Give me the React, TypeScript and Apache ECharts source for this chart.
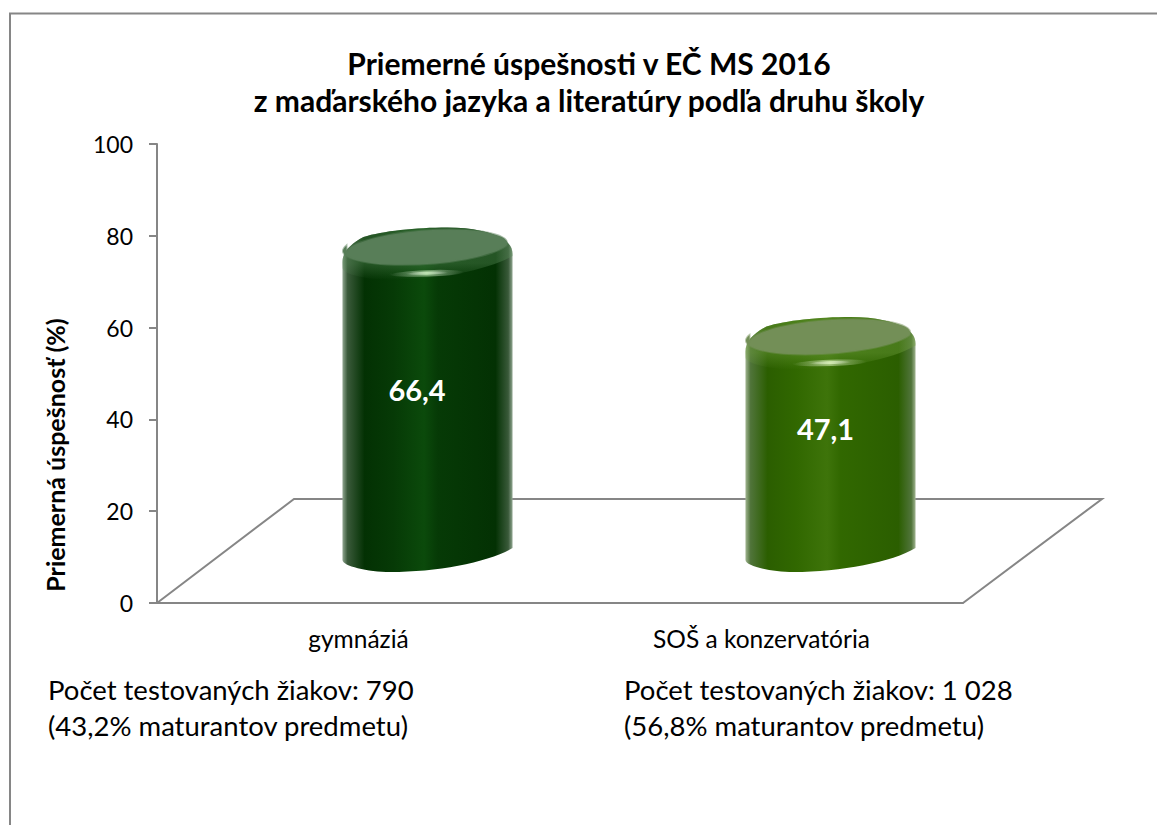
import React, { useEffect, useRef } from "react";
import * as echarts from "echarts";

const categories = ["gymnáziá", "SOŠ a konzervatória"];
const scores = [66.4, 47.1];
const yTicks = { min: 0, max: 100, interval: 20 };
const titleLines = [
  "Priemerné úspešnosti v EČ MS 2016",
  "z maďarského jazyka a literatúry podľa druhu školy",
];
const yAxisTitle = "Priemerná úspešnosť (%)";
const noteLeft = ["Počet testovaných žiakov: 790", "(43,2% maturantov predmetu)"];
const noteRight = ["Počet testovaných žiakov: 1 028", "(56,8% maturantov predmetu)"];

const FONT = "Lato";
const GREY = "#868686";
const labelLift = [10, 16];
const labelShift = [-10.5, -5];
const palettes = [
  { rim: "#8fa58f", edge: "#3a5a3a", dark: "#033103", mid: "#063a06", bright: "#0b4a0b", band: "rgba(84,135,84,A)", face: "#587e58", faceSoft: "rgba(88,126,88,0.5)", glow: "#c8ecbc" },
  { rim: "#a0b490", edge: "#50743a", dark: "#2b5e00", mid: "#316800", bright: "#3e740a", band: "rgba(112,160,62,A)", face: "#738f57", faceSoft: "rgba(115,143,87,0.5)", glow: "#dcf2bc" },
];

function ellipseD(cx: number, cy: number, rx: number, ry: number, deg: number) {
  const a = (deg * Math.PI) / 180;
  const dx = rx * Math.cos(a);
  const dy = rx * Math.sin(a);
  return `M${cx - dx} ${cy + dy}A${rx} ${ry} ${-deg} 1 1 ${cx + dx} ${cy - dy}A${rx} ${ry} ${-deg} 1 1 ${cx - dx} ${cy + dy}Z`;
}

function hGrad(stops: [number, string][]) {
  return new echarts.graphic.LinearGradient(0, 0, 1, 0, stops.map(([offset, color]) => ({ offset, color })));
}

function renderCylinder(params: any, api: any) {
  const i = api.value(0);
  const v = api.value(1);
  const p = palettes[i];
  const top = api.coord([i, v]);
  const base = api.coord([i, 0]);
  const band = api.size([1, 0])[0];
  const sx = (band * 0.211) / 85;
  const cx = top[0];
  const X = (u: number) => cx + u * sx;
  // Rounded shoulders of the cylinder, then its curved lower edge at the level lowerY.
  const slab = (lowerY: number) => {
    const T = (w: number) => top[1] + w;
    const L = (w: number) => lowerY + w;
    return (
      `M${X(-85)} ${T(16)}` +
      `C${X(-85)} ${T(6)} ${X(-77)} ${T(-2)} ${X(-64)} ${T(-9)}` +
      `C${X(-45)} ${T(-15)} ${X(-12)} ${T(-18.5)} ${X(20)} ${T(-18.5)}` +
      `C${X(45)} ${T(-18.5)} ${X(64)} ${T(-14)} ${X(75)} ${T(-7)}` +
      `C${X(82)} ${T(-3)} ${X(85)} ${T(2)} ${X(85)} ${T(8)}` +
      `L${X(85)} ${L(-6)}` +
      `C${X(62)} ${L(8)} ${X(10)} ${L(18)} ${X(-37)} ${L(18)}` +
      `C${X(-60)} ${L(18)} ${X(-85)} ${L(12)} ${X(-85)} ${L(6)}Z`
    );
  };
  const hy = top[1] + 27;
  const shaded = (pathData: string, style: any) => ({ type: "path", shape: { pathData }, style });
  const glowFill = () => hGrad([[0, "rgba(255,255,255,0)"], [0.5, p.glow], [1, "rgba(255,255,255,0)"]]);
  return {
    type: "group",
    children: [
      shaded(slab(base[1]), {
        fill: hGrad([
          [0, p.rim], [0.03, p.edge], [0.13, p.dark], [0.3, p.mid], [0.48, p.bright], [0.56, p.mid],
          [0.9, p.dark], [0.975, p.edge], [1, p.rim],
        ]),
      }),
      shaded(slab(top[1] + 16), {
        fill: new echarts.graphic.LinearGradient(0, 0, 0, 1, [
          { offset: 0, color: p.band.replace("A", "0.42") },
          { offset: 0.68, color: p.band.replace("A", "0.42") },
          { offset: 1, color: p.band.replace("A", "0") },
        ]),
      }),
      shaded(ellipseD(cx - 1, top[1] - 0.5, 80 * sx, 17.8, 4.3), { fill: p.face, stroke: p.faceSoft, lineWidth: 2 }),
      shaded(ellipseD(cx, hy, 36, 3.4, 2), { fill: glowFill(), opacity: 0.55 }),
      shaded(ellipseD(cx, hy, 20, 1.6, 2), { fill: glowFill(), opacity: 0.85 }),
      {
        type: "text",
        style: {
          text: v.toFixed(1).replace(".", ","),
          x: cx + labelShift[i],
          y: (top[1] + base[1]) / 2 - labelLift[i],
          align: "center",
          verticalAlign: "middle",
          fill: "#fff",
          fontFamily: FONT,
          fontWeight: "bold",
          fontSize: 29,
        },
      },
    ],
  };
}

function noteText(lines: string[], x: number) {
  return {
    type: "text",
    x,
    y: 671,
    style: { text: lines.join("\n"), fill: "#000", fontFamily: FONT, fontSize: 27.5, lineHeight: 36, align: "left", verticalAlign: "top" },
  };
}

export default function App() {
  const ref = useRef<HTMLDivElement>(null);
  useEffect(() => {
    document.body.style.margin = "0";
    const chart = echarts.init(ref.current!, null, { renderer: "svg" });
    chart.setOption({
      animation: false,
      backgroundColor: "#fff",
      title: {
        text: titleLines.join("\n"),
        left: 584,
        top: 39,
        textAlign: "center",
        textStyle: { fontFamily: FONT, fontWeight: "bold", fontSize: 30, lineHeight: 37, color: "#000" },
      },
      grid: [
        { left: 157, top: 144, width: 806, height: 459 },
        { left: 226, top: 90, width: 806, height: 464 },
      ],
      xAxis: [
        {
          type: "category", gridIndex: 0, data: categories,
          axisLine: { lineStyle: { color: GREY, width: 2 } },
          axisTick: { show: false },
          axisLabel: { color: "#000", fontFamily: FONT, fontSize: 24.5, margin: 23 },
        },
        { type: "category", gridIndex: 1, data: categories, show: false },
      ],
      yAxis: [
        {
          type: "value", gridIndex: 0, ...yTicks,
          axisLine: { show: true, lineStyle: { color: GREY, width: 2 } },
          axisTick: { show: true, length: 8, lineStyle: { color: GREY, width: 2 } },
          axisLabel: { color: "#000", fontFamily: FONT, fontSize: 23, margin: 24 },
          splitLine: { show: false },
        },
        { type: "value", gridIndex: 1, ...yTicks, show: false, splitLine: { show: false } },
      ],
      series: [
        {
          type: "custom", xAxisIndex: 1, yAxisIndex: 1, clip: false,
          encode: { x: 0, y: 1 },
          data: scores.map((v, i) => [i, v]),
          renderItem: renderCylinder,
          z: 5,
        },
      ],
      graphic: [
        { type: "polyline", shape: { points: [[10, 825], [10, 13.5], [1157, 13.5]] }, style: { stroke: GREY, lineWidth: 2, fill: "none" }, silent: true },
        { type: "polyline", z: 1, shape: { points: [[157, 603], [294, 499], [1102, 499], [963, 603]] }, style: { stroke: GREY, lineWidth: 2, fill: "none" }, silent: true },
        { type: "text", x: 55, y: 455, rotation: Math.PI / 2, style: { text: yAxisTitle, fill: "#000", fontFamily: FONT, fontWeight: "bold", fontSize: 25, align: "center", verticalAlign: "middle" } },
        noteText(noteLeft, 48),
        noteText(noteRight, 624),
      ],
    });
    return () => chart.dispose();
  }, []);
  return <div ref={ref} style={{ position: "absolute", left: 0, top: 0, width: 1157, height: 825 }} />;
}
